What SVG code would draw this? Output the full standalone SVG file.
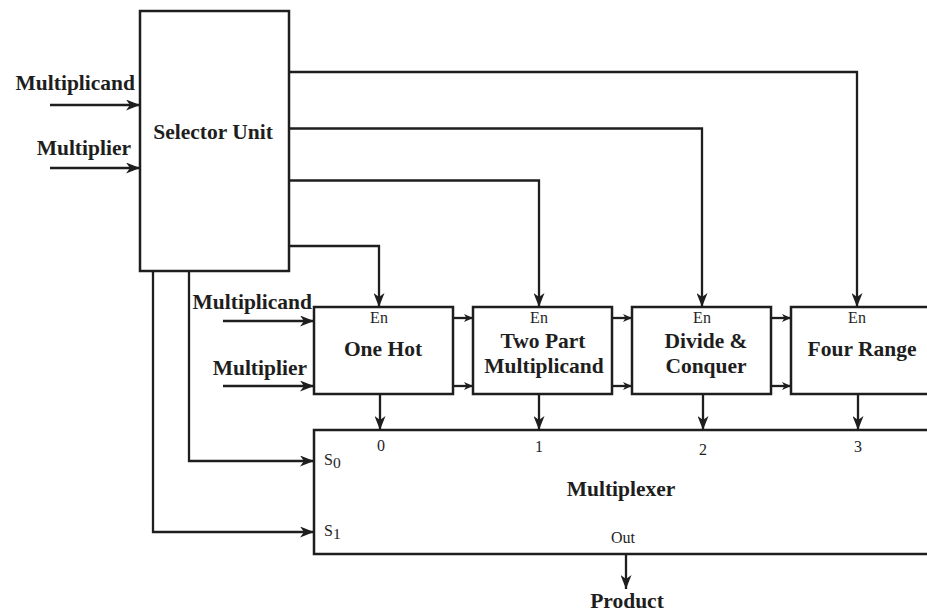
<svg xmlns="http://www.w3.org/2000/svg" width="927" height="614" viewBox="0 0 927 614">
<style>
.box{fill:#fff;stroke:#1e1e1e;stroke-width:2.5}
.ln{fill:none;stroke:#1e1e1e;stroke-width:2.3}
.b{font-family:"Liberation Serif","Times New Roman",serif;font-weight:bold;font-size:21.5px;fill:#1e1e1e}
.r{font-family:"Liberation Serif","Times New Roman",serif;font-size:16px;fill:#1e1e1e}
.m{text-anchor:middle}
</style>
<defs>
<marker id="ah" markerUnits="userSpaceOnUse" markerWidth="15" markerHeight="11" refX="14" refY="5.5" orient="auto">
<path d="M0,0 L14,5.5 L0,11 L4,5.5 z" fill="#1e1e1e"/>
</marker>
<marker id="as" markerUnits="userSpaceOnUse" markerWidth="10" markerHeight="8" refX="9" refY="4" orient="auto">
<path d="M0,0 L9,4 L0,8 L2.5,4 z" fill="#1e1e1e"/>
</marker>
</defs>
<rect width="927" height="614" fill="#fff"/>

<g id="connectors">
<line class="ln" x1="50" y1="105" x2="140" y2="105" marker-end="url(#ah)"/>
<line class="ln" x1="50" y1="168" x2="140" y2="168" marker-end="url(#ah)"/>
<polyline class="ln" points="289,72 857,72 857,307" marker-end="url(#ah)"/>
<polyline class="ln" points="289,128.5 702,128.5 702,307" marker-end="url(#ah)"/>
<polyline class="ln" points="289,180.5 539,180.5 539,307" marker-end="url(#ah)"/>
<polyline class="ln" points="289,246 379,246 379,307" marker-end="url(#ah)"/>
<line class="ln" x1="223" y1="321" x2="314" y2="321" marker-end="url(#ah)"/>
<line class="ln" x1="223" y1="386" x2="314" y2="386" marker-end="url(#ah)"/>
<line class="ln" x1="453" y1="318" x2="473" y2="318" marker-end="url(#as)"/>
<line class="ln" x1="453" y1="386" x2="473" y2="386" marker-end="url(#as)"/>
<line class="ln" x1="612" y1="318" x2="632" y2="318" marker-end="url(#as)"/>
<line class="ln" x1="612" y1="386" x2="632" y2="386" marker-end="url(#as)"/>
<line class="ln" x1="771" y1="318" x2="791" y2="318" marker-end="url(#as)"/>
<line class="ln" x1="771" y1="386" x2="791" y2="386" marker-end="url(#as)"/>
<line class="ln" x1="380" y1="394" x2="380" y2="430" marker-end="url(#ah)"/>
<line class="ln" x1="539" y1="394" x2="539" y2="430" marker-end="url(#ah)"/>
<line class="ln" x1="703" y1="394" x2="703" y2="430" marker-end="url(#ah)"/>
<line class="ln" x1="858" y1="394" x2="858" y2="430" marker-end="url(#ah)"/>
<polyline class="ln" points="189,271 189,461 314,461" marker-end="url(#ah)"/>
<polyline class="ln" points="153,271 153,532 314,532" marker-end="url(#ah)"/>
<line class="ln" x1="626" y1="554" x2="626" y2="589" marker-end="url(#ah)"/>
</g>

<g id="selector">
<rect class="box" x="140" y="11" width="149" height="260"/>
<text class="b m" x="213" y="139">Selector Unit</text>
</g>

<g id="inputs-top">
<text class="b" x="135" y="90" text-anchor="end">Multiplicand</text>
<text class="b" x="131" y="155" text-anchor="end">Multiplier</text>
</g>

<g id="inputs-onehot">
<text class="b" x="312" y="309" text-anchor="end">Multiplicand</text>
<text class="b" x="307" y="375" text-anchor="end">Multiplier</text>
</g>

<g id="onehot">
<rect class="box" x="314" y="307" width="139" height="87"/>
<text class="r m" x="379" y="323">En</text>
<text class="b m" x="383" y="356">One Hot</text>
</g>

<g id="twopart">
<rect class="box" x="473" y="307" width="139" height="87"/>
<text class="r m" x="539" y="323">En</text>
<text class="b m" x="543" y="348">Two Part</text>
<text class="b m" x="544" y="373">Multiplicand</text>
</g>

<g id="divide">
<rect class="box" x="632" y="307" width="139" height="87"/>
<text class="r m" x="702" y="323">En</text>
<text class="b m" x="706" y="348">Divide &amp;</text>
<text class="b m" x="706" y="373">Conquer</text>
</g>

<g id="fourrange">
<rect class="box" x="791" y="307" width="150" height="87"/>
<text class="r m" x="857" y="323">En</text>
<text class="b m" x="862" y="356">Four Range</text>
</g>

<g id="multiplexer">
<rect class="box" x="314" y="430" width="630" height="124"/>
<text class="r m" x="381" y="451">0</text>
<text class="r m" x="539" y="452">1</text>
<text class="r m" x="703" y="455">2</text>
<text class="r m" x="858" y="452">3</text>
<text class="r" x="324" y="465" font-size="17px">S<tspan dy="3" font-size="15.5px">0</tspan></text>
<text class="r" x="324" y="536" font-size="17px">S<tspan dy="3" font-size="15.5px">1</tspan></text>
<text class="b m" x="621" y="496">Multiplexer</text>
<text class="r m" x="623" y="543">Out</text>
</g>

<g id="product">
<text class="b m" x="627" y="608">Product</text>
</g>
</svg>
